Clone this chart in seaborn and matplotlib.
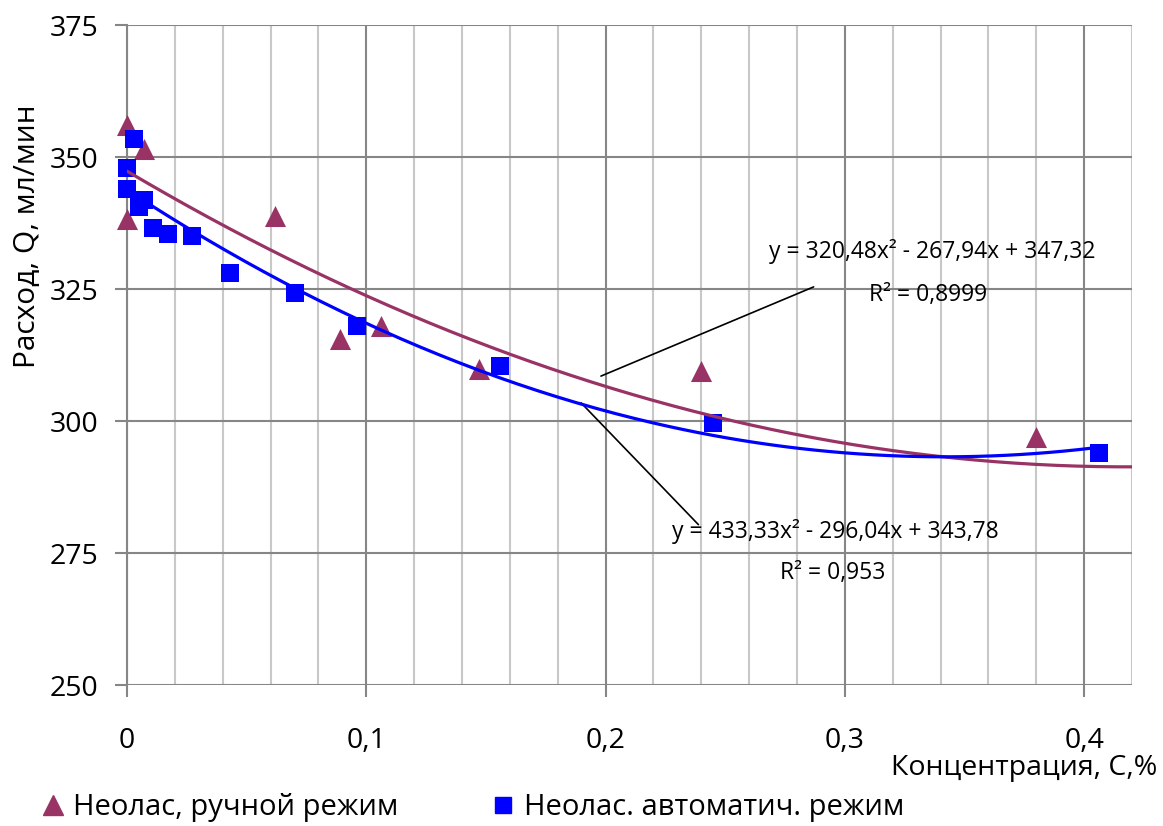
import numpy as np
import pandas as pd
import seaborn as sns
import matplotlib.pyplot as plt
from matplotlib.lines import Line2D
from matplotlib.ticker import MultipleLocator, FixedLocator, FixedFormatter

# Data
manual_x = [0.0, 0.0, 0.007, 0.062, 0.089, 0.106, 0.147, 0.240, 0.380]
manual_y = [356.0, 338.2, 351.6, 338.8, 315.5, 318.0, 309.8, 309.5, 297.0]

auto_x = [0.003, 0.0, 0.0, 0.005, 0.007, 0.011, 0.017, 0.027, 0.043,
          0.070, 0.096, 0.156, 0.245, 0.406]
auto_y = [353.5, 348.0, 344.0, 340.6, 341.8, 336.6, 335.5, 335.0, 328.1,
          324.3, 318.0, 310.4, 299.6, 294.0]

# Trendline coefficients as printed on the chart (a, b, c)
manual_coef = [320.48, -267.94, 347.32]
auto_coef = [433.33, -296.04, 343.78]

manual_label = "Неолас, ручной режим"
auto_label = "Неолас. автоматич. режим"
manual_eq = "y = 320,48x² - 267,94x + 347,32"
manual_r2 = "R² = 0,8999"
auto_eq = "y = 433,33x² - 296,04x + 343,78"
auto_r2 = "R² = 0,953"

x_ticks = [0.0, 0.1, 0.2, 0.3, 0.4]
x_tick_labels = ["0", "0,1", "0,2", "0,3", "0,4"]
y_ticks = [250, 275, 300, 325, 350, 375]

purple = "#993366"
blue = "#0000FF"
major_grey = "#868686"
minor_grey = "#C8C8C8"

sns.set_style("white")
plt.rcParams['font.family'] = ['Open Sans', 'DejaVu Sans']
plt.rcParams['text.color'] = 'black'
plt.rcParams['xtick.labelcolor'] = 'black'
plt.rcParams['ytick.labelcolor'] = 'black'

manual = pd.DataFrame({"x": manual_x, "y": manual_y})
auto = pd.DataFrame({"x": auto_x, "y": auto_y})

fig = plt.figure(figsize=(11.63, 8.26), dpi=100)
ax = fig.add_axes([127 / 1163, 1 - 685 / 826, 1005 / 1163, 660 / 826])

sns.scatterplot(data=manual, x="x", y="y", color=purple, marker="^", s=230,
                linewidth=0, ax=ax, zorder=3, clip_on=False)
sns.scatterplot(data=auto, x="x", y="y", color=blue, marker="s", s=180,
                linewidth=0, ax=ax, zorder=3, clip_on=False)

# Polynomial trendlines
xm = np.linspace(0, 0.42, 200)
xa = np.linspace(0, max(auto_x), 200)
sns.lineplot(x=xm, y=np.polyval(manual_coef, xm), color=purple, lw=2.3, ax=ax, zorder=4)
sns.lineplot(x=xa, y=np.polyval(auto_coef, xa), color=blue, lw=2.3, ax=ax, zorder=4)

ax.set_xlim(0, 0.42)
ax.set_ylim(250, 375)
ax.xaxis.set_major_locator(FixedLocator(x_ticks))
ax.xaxis.set_major_formatter(FixedFormatter(x_tick_labels))
ax.xaxis.set_minor_locator(MultipleLocator(0.02))
ax.yaxis.set_major_locator(FixedLocator(y_ticks))

ax.grid(which="minor", axis="x", color=minor_grey, lw=1.5, zorder=0)
ax.grid(which="major", axis="both", color=major_grey, lw=1.5, zorder=1)
ax.set_axisbelow(True)

for side in ["top", "right", "bottom"]:
    ax.spines[side].set_visible(False)
ax.spines["left"].set_color(major_grey)
ax.spines["left"].set_linewidth(1.5)

ax.tick_params(axis="x", which="major", direction="out", length=8.5, width=1.5,
               color=major_grey, pad=22, labelsize=20.5, bottom=True)
ax.tick_params(axis="x", which="minor", length=0)
ax.tick_params(axis="y", direction="out", length=8.5, width=1.5,
               color=major_grey, pad=12, labelsize=20.5, left=True)
ax.set_xlabel("")
ax.set_ylabel("")

# Trendline labels and leader lines
ax.text(0.3367, 332.1, manual_eq, ha="center", va="center", fontsize=16.5)
ax.text(0.3346, 323.9, manual_r2, ha="center", va="center", fontsize=16.5)
ax.annotate("", xy=(0.197, 308.3), xytext=(0.288, 325.6),
            arrowprops=dict(arrowstyle="-", color="black", lw=1.2))
ax.text(0.296, 279.1, auto_eq, ha="center", va="center", fontsize=16.5)
ax.text(0.295, 271.3, auto_r2, ha="center", va="center", fontsize=16.5)
ax.annotate("", xy=(0.189, 303.8), xytext=(0.2396, 280.0),
            arrowprops=dict(arrowstyle="-", color="black", lw=1.2))

# Axis titles
fig.text(1157 / 1163, 1 - 768 / 826, "Концентрация, С,%", ha="right", va="center", fontsize=20.5)
fig.text(28 / 1163, 1 - 236 / 826, "Расход, Q, мл/мин", ha="center", va="center",
         rotation=90, fontsize=21.5)

# Legend below the plot
handles = [Line2D([], [], marker="^", color=purple, ls="", markersize=14),
           Line2D([], [], marker="s", color=blue, ls="", markersize=12)]
fig.legend(handles, [manual_label, auto_label], loc="center left",
           bbox_to_anchor=(41 / 1163, 1 - 808 / 826), ncol=2, frameon=False,
           fontsize=21, handlelength=0.8, handletextpad=0.3, columnspacing=3.2,
           borderaxespad=0, borderpad=0)

fig.savefig("out.png", dpi=100)
